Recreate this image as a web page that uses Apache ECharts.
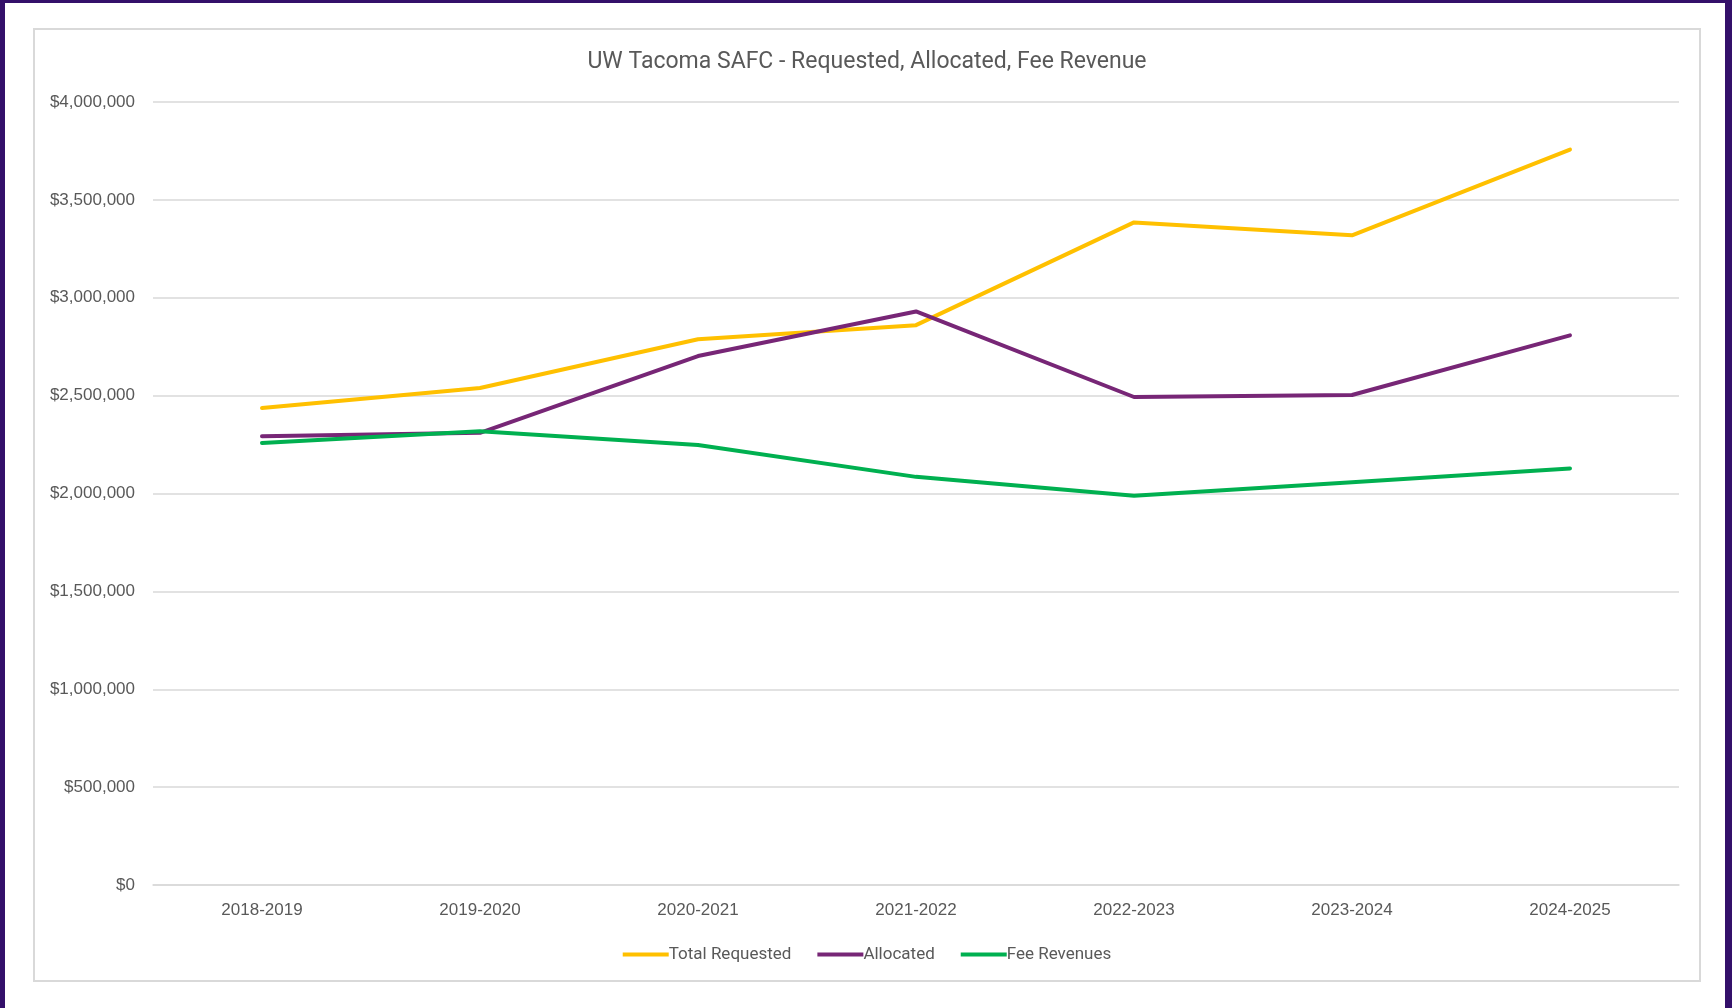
<!DOCTYPE html>
<html>
<head>
<meta charset="utf-8">
<script src="https://cdn.jsdelivr.net/npm/echarts@6/dist/echarts.min.js"></script>
<style>
  html, body { margin: 0; padding: 0; }
  body { width: 1732px; height: 1008px; background: #34106a; position: relative; overflow: hidden; }
  #panel { position: absolute; left: 5px; top: 3px; width: 1720px; height: 1010px; background: #fff; }
  #main { position: absolute; left: 33px; top: 28px; width: 1668px; height: 954px; border: 2px solid #d9d9d9; box-sizing: border-box; }
</style>
</head>
<body>
<div id="panel"></div>
<div id="main"></div>
<script>
// chart data
const years = ["2018-2019", "2019-2020", "2020-2021", "2021-2022", "2022-2023", "2023-2024", "2024-2025"];
const totalRequested = [2437000, 2539000, 2788000, 2860000, 3385000, 3319000, 3757000];
const allocated = [2292000, 2310000, 2702000, 2930000, 2493000, 2503000, 2808000];
const feeRevenues = [2258000, 2318000, 2248000, 2085000, 1988000, 2057000, 2128000];
const seriesNames = ["Total Requested", "Allocated", "Fee Revenues"];

const colors = ["#ffc000", "#772676", "#00b050"];
const labelColor = "#595959";
const lineGray = "#d9d9d9";

const chart = echarts.init(document.getElementById("main"));

const makeLine = (name, data, i) => ({
  name: name,
  type: "line",
  data: data,
  symbol: "none",
  lineStyle: { color: colors[i], width: 4, cap: "round", join: "round" },
  itemStyle: { color: colors[i] },
});

chart.setOption({
  animation: false,
  title: {
    text: "UW Tacoma SAFC - Requested, Allocated, Fee Revenue",
    left: "center",
    top: 16,
    textStyle: { fontFamily: "Roboto", fontSize: 23, fontWeight: "normal", color: labelColor },
  },
  legend: {
    data: seriesNames,
    top: 911,
    left: "center",
    itemWidth: 46,
    itemHeight: 4,
    itemGap: 26,
    icon: "rect",
    textStyle: { fontFamily: "Roboto", fontSize: 17, color: labelColor, padding: [0, 0, 0, -5] },
  },
  grid: { left: 118, right: 20, top: 72, bottom: 95 },
  xAxis: {
    type: "category",
    data: years,
    boundaryGap: true,
    axisLine: { lineStyle: { color: lineGray, width: 1.5 } },
    axisTick: { alignWithLabel: true, length: 6, lineStyle: { color: lineGray, width: 1.5 } },
    axisLabel: { color: labelColor, fontFamily: "Liberation Sans", fontSize: 17, margin: 17 },
  },
  yAxis: {
    type: "value",
    min: 0,
    max: 4000000,
    interval: 500000,
    axisLine: { show: false },
    axisTick: { show: false },
    splitLine: { lineStyle: { color: lineGray, width: 1.5 } },
    axisLabel: {
      color: labelColor,
      fontFamily: "Liberation Sans",
      fontSize: 17,
      margin: 18,
      formatter: (v) => "$" + v.toLocaleString("en-US"),
    },
  },
  series: [
    makeLine(seriesNames[0], totalRequested, 0),
    makeLine(seriesNames[1], allocated, 1),
    makeLine(seriesNames[2], feeRevenues, 2),
  ],
});
</script>
</body>
</html>
